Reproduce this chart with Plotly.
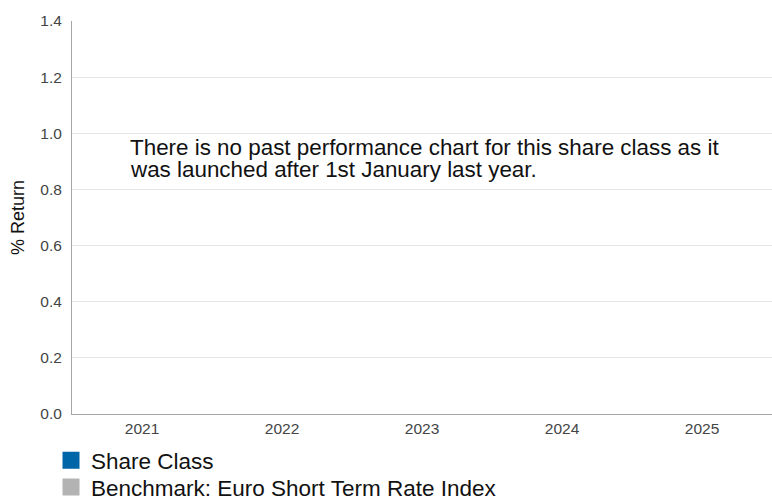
import plotly.graph_objects as go

categories = ["2021", "2022", "2023", "2024", "2025"]
share_class = [None, None, None, None, None]
benchmark = [None, None, None, None, None]
series_names = ["Share Class", "Benchmark: Euro Short Term Rate Index"]
series_colors = ["#0066a8", "#b3b3b3"]
y_ticks = [0.0, 0.2, 0.4, 0.6, 0.8, 1.0, 1.2, 1.4]
message_lines = ["There is no past performance chart for this share class as it",
                 "was launched after 1st January last year."]

fig = go.Figure()
for name, vals, col, lg in zip(series_names, [share_class, benchmark], series_colors,
                               ["legend", "legend2"]):
    fig.add_trace(go.Bar(
        x=categories, y=vals, name=name, legend=lg,
        marker=dict(color=col, line=dict(color=col, width=5)),
    ))

FONT = "Liberation Sans, Arial, sans-serif"
legend_style = dict(
    orientation="v", xanchor="left", yanchor="top",
    font=dict(family=FONT, size=22.5, color="#111111"),
    tracegroupgap=0, itemclick=False, itemdoubleclick=False,
    bgcolor="rgba(0,0,0,0)",
)
fig.update_layout(
    width=772, height=500,
    margin=dict(l=72, r=0, t=21, b=86, autoexpand=False),
    paper_bgcolor="white", plot_bgcolor="white",
    font=dict(family=FONT, color="#444444", size=15.5),
    barmode="group",
    showlegend=True,
    legend=dict(x=-0.03, y=-0.064, **legend_style),
    legend2=dict(x=-0.03, y=-0.1323, **legend_style),
    xaxis=dict(
        type="category", categoryorder="array", categoryarray=categories,
        range=[-0.5, 4.5], showgrid=False, showline=True, linecolor="#a6a6a6",
        linewidth=1, ticks="", tickfont=dict(size=15.5, color="#444444"),
        fixedrange=True, automargin=False,
    ),
    yaxis=dict(
        range=[0, 1.4], tickvals=y_ticks, tickformat=".1f",
        showgrid=True, gridcolor="#e6e6e6", gridwidth=1,
        showline=True, linecolor="#a6a6a6", linewidth=1, zeroline=False,
        ticks="", ticklabelstandoff=6,
        tickfont=dict(size=15.5, color="#444444"),
        title=dict(text="% Return", font=dict(size=18, color="#111111"), standoff=11),
        fixedrange=True, automargin=False,
    ),
    annotations=[
        dict(text=message_lines[0], xref="paper", yref="paper", x=0.080, y=0.7155,
             xanchor="left", yanchor="top", align="left", showarrow=False,
             font=dict(family=FONT, size=22.4, color="#111111")),
        dict(text=message_lines[1], xref="paper", yref="paper", x=0.080, y=0.658,
             xanchor="left", yanchor="top", align="left", showarrow=False,
             font=dict(family=FONT, size=22.4, color="#111111")),
    ],
)

fig.write_html("out.html", config={"displayModeBar": False},
               post_script="document.body.style.margin='0';")
